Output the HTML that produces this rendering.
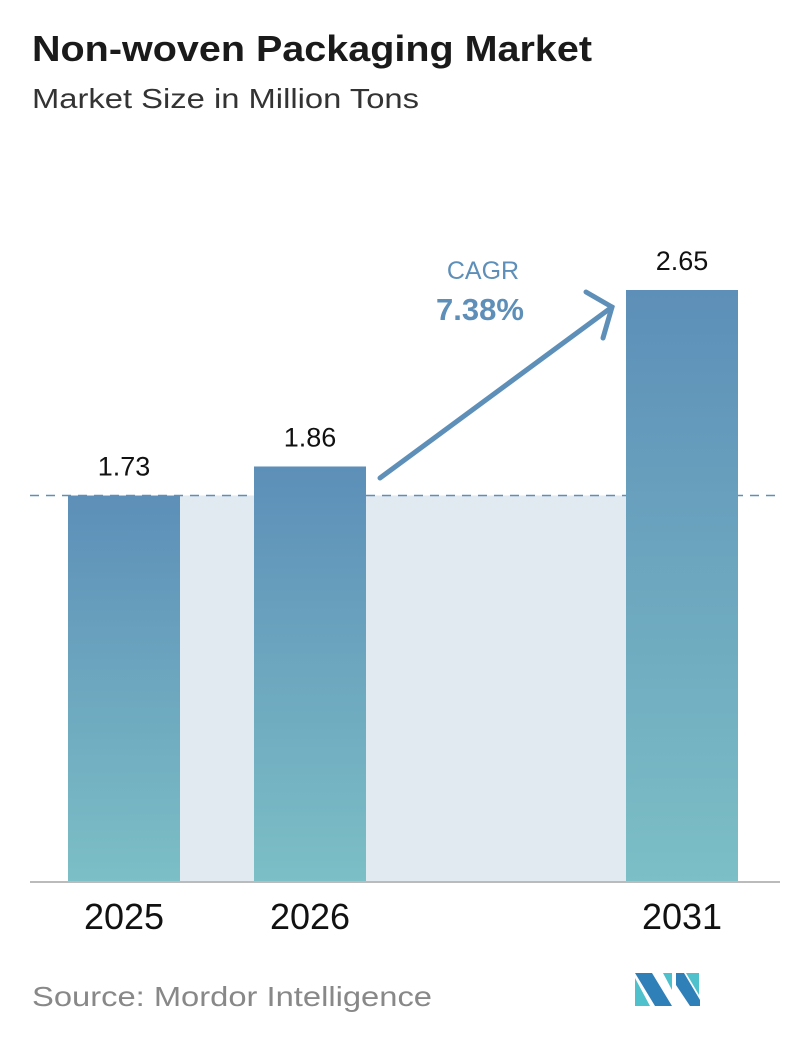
<!DOCTYPE html>
<html><head><meta charset="utf-8"><style>
body{margin:0;background:#fff;width:796px;height:1034px;overflow:hidden;font-family:"Liberation Sans",sans-serif}
</style></head><body>
<svg id="chart" width="796" height="1034" xmlns="http://www.w3.org/2000/svg">
<defs>
<linearGradient id="g" x1="0" y1="0" x2="0" y2="1">
<stop offset="0" stop-color="#5d8fb8"/><stop offset="1" stop-color="#7cbfc6"/>
</linearGradient>
</defs>
<text x="32" y="61" font-size="36" font-weight="bold" fill="#1a1a1a" textLength="560" lengthAdjust="spacingAndGlyphs">Non-woven Packaging Market</text>
<text x="32" y="108" font-size="28" fill="#333" textLength="387" lengthAdjust="spacingAndGlyphs">Market Size in Million Tons</text>
<g id="bars"></g>
<line x1="30" y1="882" x2="780" y2="882" stroke="#bbb" stroke-width="2"/>
<text x="483" y="279" font-size="25" fill="#5d8fb8" text-anchor="middle">CAGR</text>
<text x="480" y="320" font-size="31" font-weight="bold" fill="#5d8fb8" text-anchor="middle">7.38%</text>
<g stroke="#5d8fb8" stroke-width="5" stroke-linecap="round" fill="none">
<line x1="380" y1="478" x2="612" y2="307"/>
<polyline points="586,292 612,307 603,338"/>
</g>
<text x="32" y="1006" font-size="28" fill="#888" textLength="400" lengthAdjust="spacingAndGlyphs">Source:  Mordor Intelligence</text>
<g>
<polygon points="635,973 652,973 672,1006 655,1006" fill="#2f7fb8"/>
<polygon points="635,978 650,1006 635,1006" fill="#4fc1cc"/>
<polygon points="663,973 672,973 672,990" fill="#4fc1cc"/>
<polygon points="676,973 684,973 700,1000 700,1006 690,1006 676,985" fill="#2f7fb8"/>
<polygon points="686,973 699,973 699,995" fill="#4fc1cc"/>
</g>
</svg>
<script>
const categories=["2025","2026","2031"];
const values=[1.73,1.86,2.65];
const labels=["1.73","1.86","2.65"];
const base=882, scale=592/2.65;
const xs=[68,254,626], bw=112;
function y(v){return base-v*scale;}
const g=document.getElementById('bars');
const ns="http://www.w3.org/2000/svg";
const y0=y(values[0]);
const fill=document.createElementNS(ns,'rect');
fill.setAttribute('x',xs[0]);fill.setAttribute('y',y0);fill.setAttribute('width',xs[2]-xs[0]);fill.setAttribute('height',base-y0);fill.setAttribute('fill','#e1e9f1');


g.appendChild(fill);
const dl=document.createElementNS(ns,'line');
dl.setAttribute('x1',30);dl.setAttribute('x2',780);dl.setAttribute('y1',y0);dl.setAttribute('y2',y0);
dl.setAttribute('stroke','#5d8fb8');dl.setAttribute('stroke-width','1.5');dl.setAttribute('stroke-dasharray','9 7');


g.appendChild(dl);
categories.forEach((c,i)=>{
 const r=document.createElementNS(ns,'rect');
 r.setAttribute('x',xs[i]);r.setAttribute('y',y(values[i]));r.setAttribute('width',bw);r.setAttribute('height',base-y(values[i]));r.setAttribute('fill','url(#g)');
 
 
 g.appendChild(r);
 const t=document.createElementNS(ns,'text');
 t.setAttribute('x',xs[i]+bw/2);t.setAttribute('y',y(values[i])-20);t.setAttribute('text-anchor','middle');t.setAttribute('font-size','27');t.setAttribute('fill','#111');
 t.textContent=labels[i];
 
 
 g.appendChild(t);
 const xl=document.createElementNS(ns,'text');
 xl.setAttribute('x',xs[i]+bw/2);xl.setAttribute('y',929);xl.setAttribute('text-anchor','middle');xl.setAttribute('font-size','36');xl.setAttribute('fill','#111');
 xl.textContent=c;
 
 
 g.appendChild(xl);
});
</script>
</body></html>
